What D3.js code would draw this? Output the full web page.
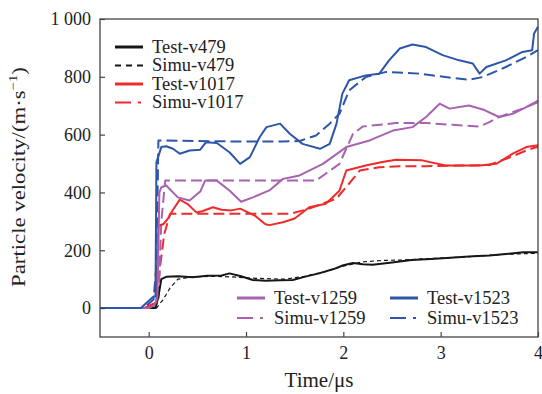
<!DOCTYPE html>
<html>
<head>
<meta charset="utf-8">
<script src="https://cdn.jsdelivr.net/npm/d3@7"></script>
<style>
  body { margin: 0; background: #fff; }
  text { font-family: "Liberation Serif", "Times New Roman", serif; fill: #222; }
</style>
</head>
<body>
<svg id="chart" width="542" height="394"></svg>
<script>
// [time (µs), particle velocity (m/s)]
const testV479 = [[-0.5,0],[0.07,0],[0.1,40],[0.13,100],[0.18,108],[0.3,110],[0.45,107],[0.6,112],[0.75,113],[0.83,120],[0.95,110],[1.07,97],[1.2,95],[1.35,96],[1.48,97],[1.6,108],[1.75,120],[1.9,135],[2.0,148],[2.1,156],[2.2,152],[2.3,150],[2.5,158],[2.7,166],[2.9,170],[3.1,174],[3.33,179],[3.5,182],[3.7,188],[3.85,193],[4,193]];
const simuV479 = [[-0.5,0],[0.08,0],[0.15,30],[0.22,70],[0.3,100],[0.45,108],[0.7,110],[0.9,107],[1.1,103],[1.4,100],[1.6,110],[1.8,125],[2.0,145],[2.2,160],[2.4,165],[2.6,166],[2.8,170],[3.0,173],[3.3,178],[3.6,185],[4,190]];
const testV1017 = [[-0.5,0],[-0.05,0],[0.05,15],[0.08,20],[0.1,285],[0.15,290],[0.2,310],[0.25,340],[0.32,375],[0.4,360],[0.49,331],[0.55,335],[0.66,349],[0.75,340],[0.85,338],[0.94,344],[1.09,320],[1.2,290],[1.24,287],[1.38,297],[1.5,310],[1.65,349],[1.82,361],[1.96,406],[2.03,476],[2.23,493],[2.4,505],[2.54,513],[2.81,511],[3.05,493],[3.4,493],[3.57,499],[3.74,534],[3.88,557],[4,563]];
const simuV1017 = [[-0.5,0],[0,0],[0.08,15],[0.12,150],[0.16,256],[0.22,326],[0.5,326],[1.0,326],[1.45,326],[1.65,344],[1.93,379],[2.06,431],[2.17,476],[2.37,487],[2.58,491],[2.85,491],[3.2,493],[3.5,495],[3.7,520],[3.9,548],[4,558]];
const testV1259 = [[-0.5,0],[0,0],[0.06,10],[0.09,40],[0.11,400],[0.13,418],[0.18,424],[0.3,383],[0.42,372],[0.53,403],[0.58,441],[0.7,441],[0.83,407],[0.95,368],[1.07,383],[1.24,407],[1.38,447],[1.55,459],[1.79,499],[2.03,557],[2.27,580],[2.51,614],[2.71,626],[2.85,661],[2.99,707],[3.09,690],[3.29,701],[3.45,685],[3.6,661],[3.74,672],[3.88,695],[4,718]];
const simuV1259 = [[-0.5,0],[0.02,0],[0.1,20],[0.13,300],[0.17,441],[0.5,441],[1.0,441],[1.45,441],[1.72,441],[1.96,499],[2.1,603],[2.2,628],[2.54,640],[2.85,640],[3.12,634],[3.4,628],[3.5,643],[3.6,661],[3.8,685],[4,712]];
const testV1523 = [[-0.5,0],[-0.08,0],[0.05,40],[0.07,40],[0.08,505],[0.13,557],[0.18,560],[0.25,551],[0.32,534],[0.42,545],[0.53,548],[0.59,574],[0.7,571],[0.83,539],[0.94,499],[1.04,522],[1.14,591],[1.21,626],[1.35,638],[1.45,603],[1.58,568],[1.76,551],[1.86,568],[1.93,638],[1.99,742],[2.06,788],[2.23,805],[2.37,811],[2.47,857],[2.58,898],[2.71,912],[2.85,903],[3.02,875],[3.19,857],[3.33,846],[3.4,811],[3.47,834],[3.67,857],[3.84,886],[3.94,892],[3.96,950],[4,973]];
const simuV1523 = [[-0.5,0],[-0.05,0],[0.05,30],[0.08,150],[0.1,580],[0.5,578],[1.0,576],[1.38,576],[1.55,578],[1.72,597],[1.86,638],[1.96,672],[2.06,753],[2.23,799],[2.44,817],[2.78,811],[3.05,799],[3.29,790],[3.43,799],[3.67,834],[3.88,869],[4,892]];

const xTicks = [0, 1, 2, 3, 4];
const yTicks = [0, 200, 400, 600, 800, 1000];
const yTickLabels = ['0', '200', '400', '600', '800', '1 000'];

const colors = { black: '#161616', red: '#ee2b2b', purple: '#a862b0', blue: '#2d55a8' };

const series = [
  { name: 'Test-v479', data: testV479, color: colors.black, dash: null, w: 2 },
  { name: 'Simu-v479', data: simuV479, color: colors.black, dash: '4,3', w: 1.2 },
  { name: 'Test-v1017', data: testV1017, color: colors.red, dash: null, w: 2 },
  { name: 'Simu-v1017', data: simuV1017, color: colors.red, dash: '11,5', w: 2 },
  { name: 'Test-v1259', data: testV1259, color: colors.purple, dash: null, w: 2 },
  { name: 'Simu-v1259', data: simuV1259, color: colors.purple, dash: '11,5', w: 2 },
  { name: 'Test-v1523', data: testV1523, color: colors.blue, dash: null, w: 2 },
  { name: 'Simu-v1523', data: simuV1523, color: colors.blue, dash: '11,5', w: 2 }
];

const margin = { top: 19, right: 4, bottom: 57, left: 100 };
const width = 542 - margin.left - margin.right;
const height = 394 - margin.top - margin.bottom;

const svg = d3.select('#chart');
const g = svg.append('g').attr('transform', `translate(${margin.left},${margin.top})`);

const x = d3.scaleLinear().domain([-0.5, 4]).range([0, width]);
const y = d3.scaleLinear().domain([-100, 1000]).range([height, 0]);

const line = d3.line().x(d => x(d[0])).y(d => y(d[1]));

// draw simu first, test on top
const drawOrder = [1, 3, 5, 7, 0, 2, 4, 6];
drawOrder.forEach(i => {
  const s = series[i];
  g.append('path')
    .datum(s.data)
    .attr('fill', 'none')
    .attr('stroke', s.color)
    .attr('stroke-width', s.w)
    .attr('stroke-linejoin', 'round')
    .attr('stroke-dasharray', s.dash)
    .attr('d', line);
});

// frame
g.append('rect')
  .attr('width', width).attr('height', height)
  .attr('fill', 'none').attr('stroke', '#444').attr('stroke-width', 1.3);

const xAxis = g.append('g')
  .attr('transform', `translate(0,${height})`)
  .call(d3.axisBottom(x).tickValues(xTicks).tickSize(-5).tickPadding(9).tickFormat(d3.format('d')));
const yAxis = g.append('g')
  .call(d3.axisLeft(y).tickValues(yTicks).tickSize(-5).tickPadding(9).tickFormat((d, i) => yTickLabels[i]));

[xAxis, yAxis].forEach(a => {
  a.select('.domain').remove();
  a.selectAll('.tick line').attr('stroke', '#444').attr('stroke-width', 1.2);
  a.selectAll('.tick text').attr('font-size', 18).attr('fill', '#222')
    .style('font-family', '"Liberation Serif", serif');
});

// squeeze a text node horizontally to a target width (the source font is condensed)
function fitWidth(sel, target) {
  const w = sel.node().getComputedTextLength();
  return w > 0 ? target / w : 1;
}

const xt = svg.append('text')
  .attr('text-anchor', 'middle').attr('font-size', 20)
  .text('Time/μs');
const sxT = fitWidth(xt, 69);
xt.attr('transform', `translate(${margin.left + width / 2},387) scale(${sxT},1)`);

const yt = svg.append('text')
  .attr('text-anchor', 'middle').attr('font-size', 18.5);
yt.append('tspan').text('Particle velocity/(m·s');
yt.append('tspan').attr('font-size', 12).attr('dy', -8).text('−1');
yt.append('tspan').attr('dy', 8).text(')');
const syT = fitWidth(yt, 220);
yt.attr('transform', `translate(25,177) rotate(-90) scale(${syT},1)`);

// legends
function legendItem(s, lx, ly, legendDash) {
  svg.append('line')
    .attr('x1', lx).attr('x2', lx + 28).attr('y1', ly).attr('y2', ly)
    .attr('stroke', s.color).attr('stroke-width', s.dash ? 2 : 3)
    .attr('stroke-dasharray', legendDash);
  svg.append('text')
    .attr('x', lx + 37).attr('y', ly + 5.5)
    .attr('font-size', 18.5)
    .text(s.name);
}

const dashDot = '16,7,3,10';
legendItem(series[0], 115, 47, null);
legendItem(series[1], 115, 65.5, '6,5');
legendItem(series[2], 115, 84, null);
legendItem(series[3], 115, 102.5, dashDot);

legendItem(series[4], 237, 298, null);
legendItem(series[5], 237, 318, dashDot);
legendItem(series[6], 390, 298, null);
legendItem(series[7], 390, 318, dashDot);
</script>
</body>
</html>
